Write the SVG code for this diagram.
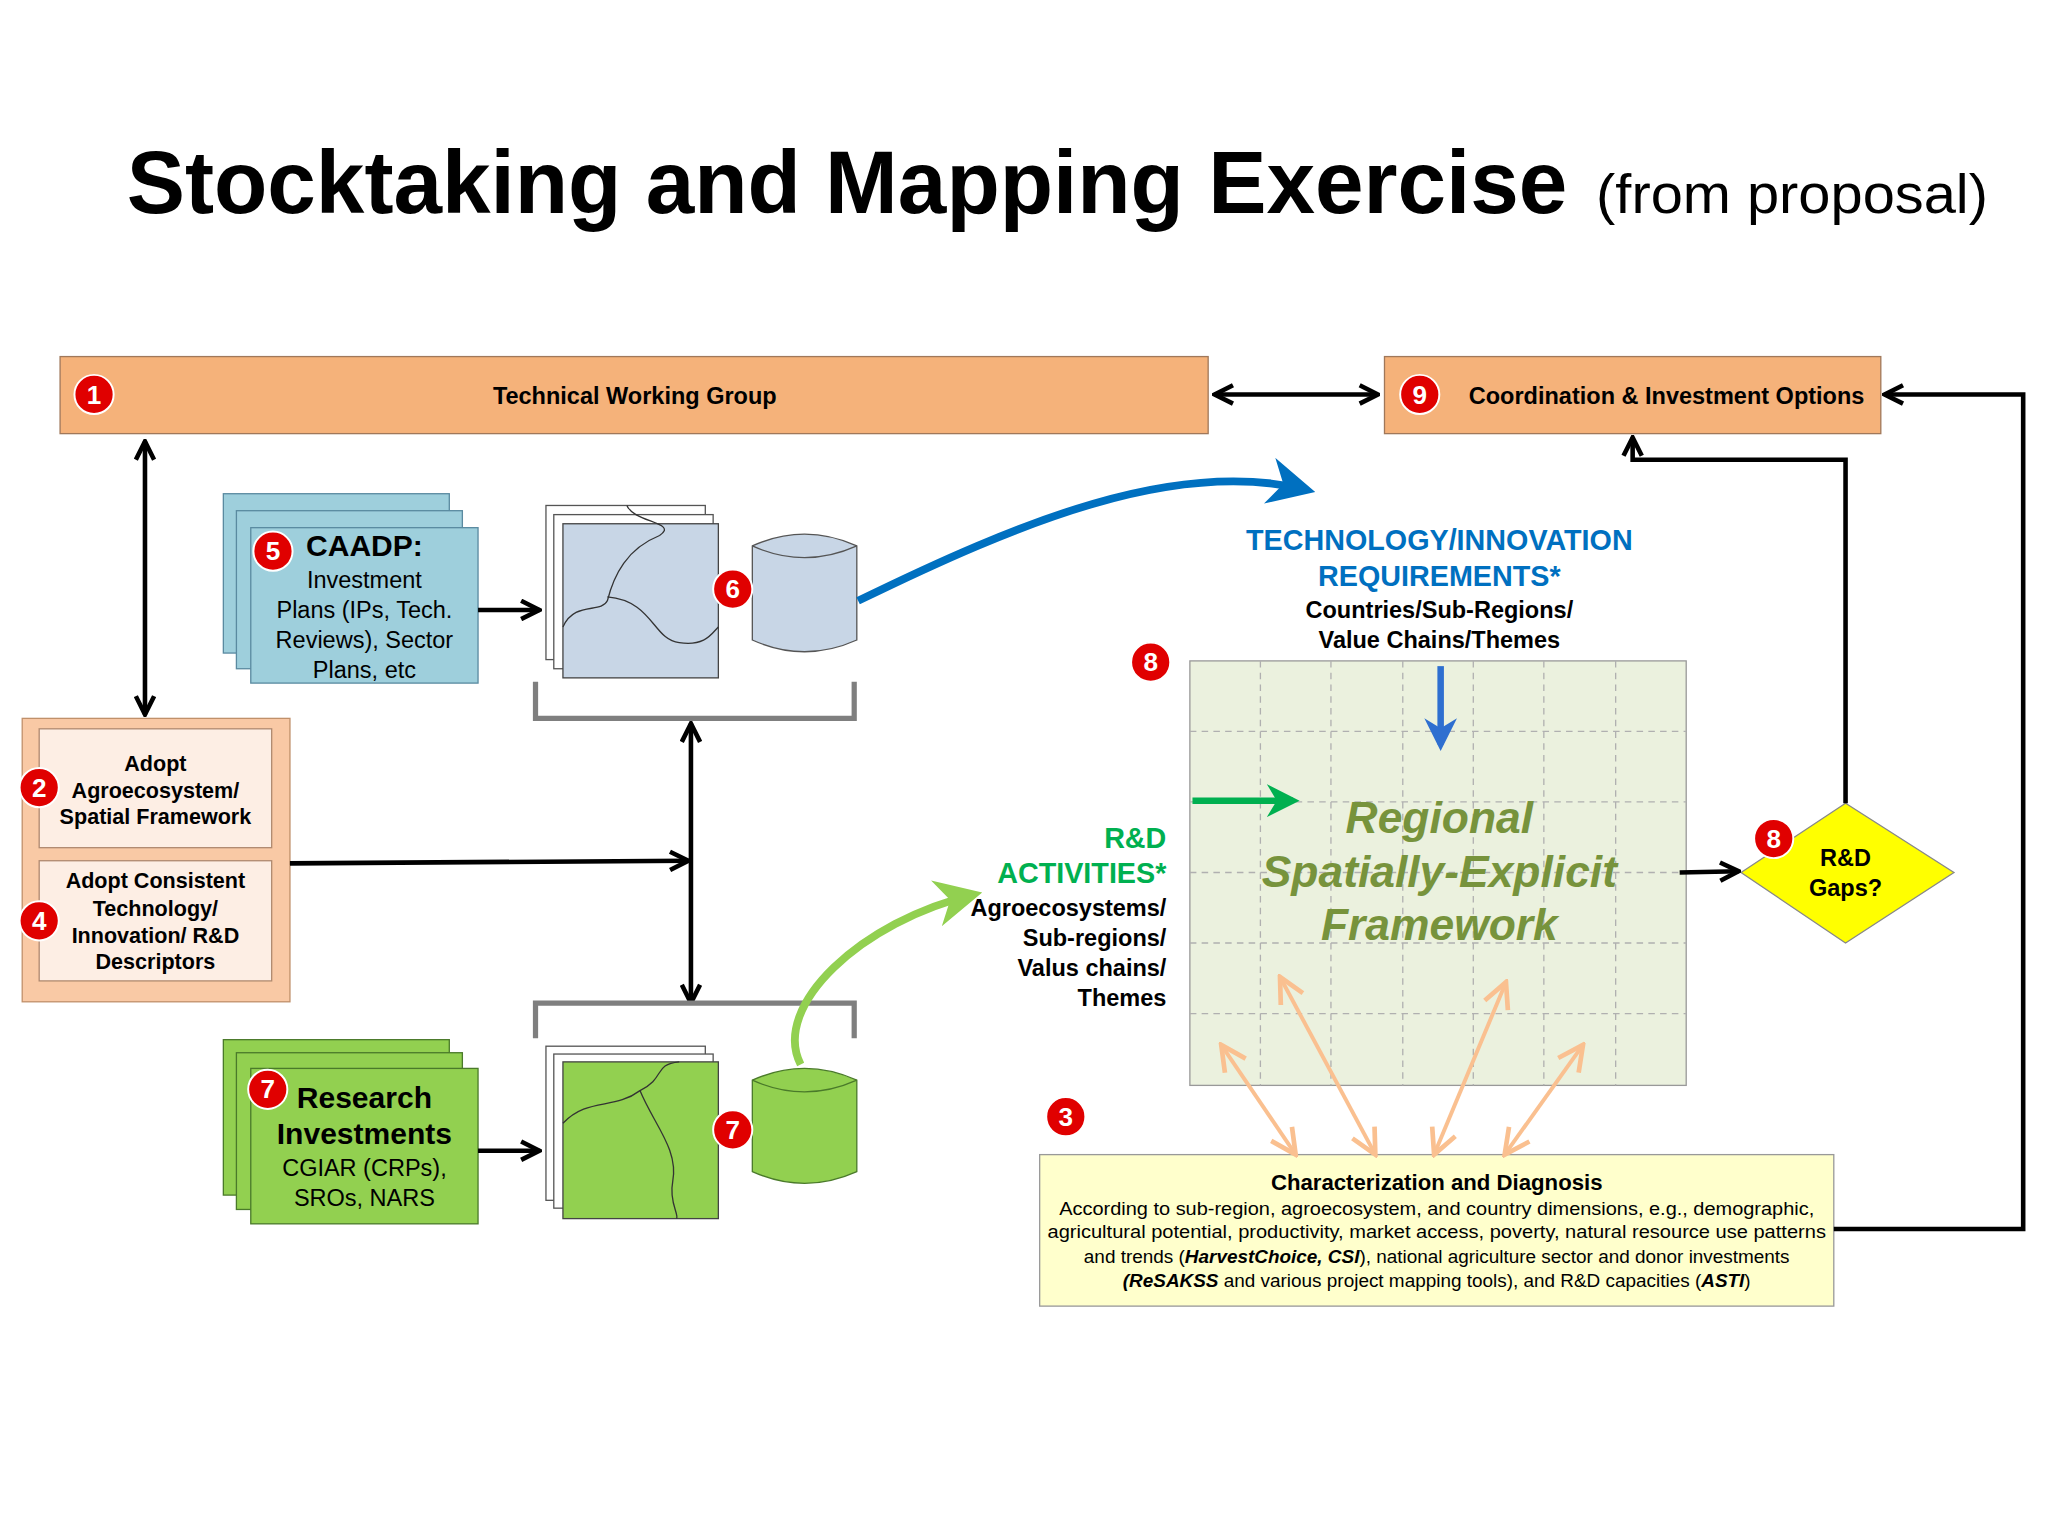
<svg xmlns="http://www.w3.org/2000/svg" width="2048" height="1536" viewBox="0 0 2048 1536">
<defs>
<style>
text{font-family:"Liberation Sans",Arial,sans-serif;}
.b{font-weight:bold;}
.bt{fill:#000;font-weight:bold;text-anchor:middle}
.badge circle{fill:#e00000;stroke:#fff;stroke-width:1.5}
.badge text{fill:#fff;font-size:20px;font-weight:bold;text-anchor:middle}
.conn{fill:none;stroke:#000;stroke-width:3.5}
.map{stroke:#444;stroke-width:1}
.cur{fill:none;stroke:#333;stroke-width:1}
.oa{fill:none;stroke:#fac090;stroke-width:3}
</style>
<marker id="ah" viewBox="0 0 10 10" refX="9" refY="5" markerWidth="5" markerHeight="5" orient="auto-start-reverse" markerUnits="strokeWidth"><polyline points="1,1 9,5 1,9" fill="none" stroke="#000" stroke-width="2"/></marker>
<marker id="ao" viewBox="0 0 10 10" refX="9" refY="5" markerWidth="8" markerHeight="8" orient="auto-start-reverse" markerUnits="strokeWidth"><polyline points="1,1 9,5 1,9" fill="none" stroke="#fac090" stroke-width="1.5"/></marker>
<marker id="ab" viewBox="0 0 10 10" refX="8" refY="5" markerWidth="6" markerHeight="6" orient="auto" markerUnits="strokeWidth"><path d="M0,0 L10,5 L0,10 L3,5 Z" fill="#0070c0"/></marker>
<marker id="ab2" viewBox="0 0 10 10" refX="8" refY="5" markerWidth="5" markerHeight="5" orient="auto" markerUnits="strokeWidth"><path d="M0,0 L10,5 L0,10 L3,5 Z" fill="#2e6fd0"/></marker>
<marker id="ag" viewBox="0 0 10 10" refX="8" refY="5" markerWidth="6" markerHeight="6" orient="auto" markerUnits="strokeWidth"><path d="M0,0 L10,5 L0,10 L3,5 Z" fill="#92d050"/></marker>
<marker id="ag2" viewBox="0 0 10 10" refX="8" refY="5" markerWidth="5" markerHeight="5" orient="auto" markerUnits="strokeWidth"><path d="M0,0 L10,5 L0,10 L3,5 Z" fill="#00b050"/></marker>
</defs>
<rect width="2048" height="1536" fill="#fff"/>
<g transform="scale(1.30612)">
<g id="title">
<text x="97" y="163" class="b" font-size="68" textLength="1103" lengthAdjust="spacingAndGlyphs">Stocktaking and Mapping Exercise</text>
<text x="1222" y="163" font-size="42" textLength="300" lengthAdjust="spacingAndGlyphs">(from proposal)</text>
</g>

<g id="n1"><rect x="46" y="273" width="879" height="59" fill="#f5b27a" stroke="#a0785a"/><text class="bt" style="font-size:18px" x="486" y="309">Technical Working Group</text></g>
<g id="n9"><rect x="1060" y="273" width="380" height="59" fill="#f5b27a" stroke="#a0785a"/><text class="bt" style="font-size:18px" x="1276" y="309">Coordination &amp; Investment Options</text></g>

<g id="n2n4" style="font-size:16.5px">
<rect x="17" y="550" width="205" height="217" fill="#f9c9a5" stroke="#c0906a"/>
<rect x="30" y="558" width="178" height="91" fill="#fdeee4" stroke="#b08a70"/>
<text class="bt" x="119" y="590">Adopt</text>
<text class="bt" x="119" y="611">Agroecosystem/</text>
<text class="bt" x="119" y="631">Spatial Framework</text>
<rect x="30" y="659" width="178" height="92" fill="#fdeee4" stroke="#b08a70"/>
<text class="bt" x="119" y="680">Adopt Consistent</text>
<text class="bt" x="119" y="701">Technology/</text>
<text class="bt" x="119" y="722">Innovation/ R&amp;D</text>
<text class="bt" x="119" y="742">Descriptors</text>
</g>

<g id="n5">
<rect x="171" y="378" width="173" height="122" fill="#9ecfdc" stroke="#5a8aa0"/>
<rect x="181" y="391" width="173" height="121" fill="#9ecfdc" stroke="#5a8aa0"/>
<rect x="192" y="404" width="174" height="119" fill="#9ecfdc" stroke="#5a8aa0"/>
<text class="bt" style="font-size:23px" x="279" y="426">CAADP:</text>
<g style="font-size:18px" text-anchor="middle"><text x="279" y="450">Investment</text><text x="279" y="473">Plans (IPs, Tech.</text><text x="279" y="496">Reviews), Sector</text><text x="279" y="519">Plans, etc</text></g>
</g>

<g id="n6">
<rect x="418" y="387" width="122" height="118" fill="#fff" stroke="#555"/>
<rect x="424" y="394" width="122" height="118" fill="#fff" stroke="#555"/>
<rect x="431" y="401" width="119" height="118" class="map" fill="#c8d6e6"/>
<path class="cur" d="M480,387 C485,400 520,400 505,410 C480,420 470,440 465,460 C460,470 440,460 431,480"/>
<path class="cur" d="M465,457 C500,460 500,490 520,492 C540,495 545,485 550,480"/>
<path d="M576,418 Q616,400 656,418 L656,490 Q616,508 576,490 Z" fill="#c8d6e6" stroke="#555"/>
<path d="M576,418 Q616,436 656,418" fill="none" stroke="#555"/>
</g>

<g id="n7a">
<rect x="171" y="796" width="173" height="119" fill="#92d050" stroke="#4a7a2a"/>
<rect x="181" y="806" width="173" height="120" fill="#92d050" stroke="#4a7a2a"/>
<rect x="192" y="818" width="174" height="119" fill="#92d050" stroke="#4a7a2a"/>
<text class="bt" style="font-size:23px" x="279" y="848">Research</text>
<text class="bt" style="font-size:23px" x="279" y="876">Investments</text>
<g style="font-size:18px" text-anchor="middle"><text x="279" y="900">CGIAR (CRPs),</text><text x="279" y="923">SROs, NARS</text></g>
</g>

<g id="n7b">
<rect x="418" y="801" width="122" height="118" fill="#fff" stroke="#555"/>
<rect x="424" y="807" width="122" height="118" fill="#fff" stroke="#555"/>
<rect x="431" y="813" width="119" height="120" class="map" fill="#92d050"/>
<path class="cur" d="M431,860 C450,840 470,850 490,835 C510,825 500,815 520,813"/>
<path class="cur" d="M490,835 C500,860 520,880 515,905 C512,920 520,930 518,933"/>
<path d="M576,827 Q616,809 656,827 L656,897 Q616,915 576,897 Z" fill="#92d050" stroke="#4a7a2a"/>
<path d="M576,827 Q616,845 656,827" fill="none" stroke="#4a7a2a"/>
</g>

<g id="n8">
<g class="b" style="font-size:22px" fill="#0070c0" text-anchor="middle"><text x="1102" y="421">TECHNOLOGY/INNOVATION</text><text x="1102" y="449">REQUIREMENTS*</text></g>
<text class="bt" style="font-size:18px" x="1102" y="473">Countries/Sub-Regions/</text>
<text class="bt" style="font-size:18px" x="1102" y="496">Value Chains/Themes</text>
<rect x="911" y="506" width="380" height="325" fill="#ebf1de" stroke="#999"/>
<g stroke="#b0b0b0" stroke-dasharray="5,4" stroke-width="1">
<line x1="965" y1="506" x2="965" y2="831"/><line x1="1019" y1="506" x2="1019" y2="831"/><line x1="1074" y1="506" x2="1074" y2="831"/><line x1="1128" y1="506" x2="1128" y2="831"/><line x1="1182" y1="506" x2="1182" y2="831"/><line x1="1237" y1="506" x2="1237" y2="831"/>
<line x1="911" y1="560" x2="1291" y2="560"/><line x1="911" y1="614" x2="1291" y2="614"/><line x1="911" y1="668" x2="1291" y2="668"/><line x1="911" y1="722" x2="1291" y2="722"/><line x1="911" y1="776" x2="1291" y2="776"/>
</g>
<g class="b" style="font-size:34px" font-style="italic" fill="#77933c" text-anchor="middle"><text x="1102" y="638">Regional</text><text x="1102" y="679">Spatially-Explicit</text><text x="1102" y="720">Framework</text></g>
<g class="b" style="font-size:22px" fill="#00b050" text-anchor="end"><text x="893" y="649">R&amp;D</text><text x="893" y="676">ACTIVITIES*</text></g>
<g class="b" style="font-size:18px" text-anchor="end"><text x="893" y="701">Agroecosystems/</text><text x="893" y="724">Sub-regions/</text><text x="893" y="747">Valus chains/</text><text x="893" y="770">Themes</text></g>
</g>

<g id="n8gaps">
<polygon points="1333,668 1413,615 1496,668 1413,722" fill="#ffff00" stroke="#888"/>
<text class="bt" style="font-size:18px" x="1413" y="663">R&amp;D</text><text class="bt" style="font-size:18px" x="1413" y="686">Gaps?</text>
</g>

<g id="n3">
<rect x="796" y="884" width="608" height="116" fill="#ffffcc" stroke="#999"/>
<text class="bt" style="font-size:17px" x="1100" y="911">Characterization and Diagnosis</text>
<g style="font-size:14.5px" text-anchor="middle">
<text x="1100" y="930" textLength="578" lengthAdjust="spacingAndGlyphs">According to sub-region, agroecosystem, and country dimensions, e.g., demographic,</text>
<text x="1100" y="948" textLength="596" lengthAdjust="spacingAndGlyphs">agricultural potential, productivity, market access, poverty, natural resource use patterns</text>
<text x="1100" y="967">and trends (<tspan font-weight="bold" font-style="italic">HarvestChoice, CSI</tspan>), national agriculture sector and donor investments</text>
<text x="1100" y="985"><tspan font-weight="bold" font-style="italic">(ReSAKSS</tspan> and various project mapping tools), and R&amp;D capacities (<tspan font-weight="bold" font-style="italic">ASTI</tspan>)</text>
</g>
</g>

<g id="connectors">
<line class="conn" x1="930" y1="302" x2="1055" y2="302" marker-start="url(#ah)" marker-end="url(#ah)"/>
<line class="conn" x1="111" y1="338" x2="111" y2="547" marker-start="url(#ah)" marker-end="url(#ah)"/>
<line class="conn" x1="366" y1="467" x2="413" y2="467" marker-end="url(#ah)"/>
<line class="conn" x1="366" y1="881" x2="413" y2="881" marker-end="url(#ah)"/>
<line class="conn" x1="529" y1="554" x2="529" y2="768" marker-start="url(#ah)" marker-end="url(#ah)"/>
<line class="conn" x1="222" y1="661" x2="527" y2="659" marker-end="url(#ah)"/>
<polyline fill="none" stroke="#7f7f7f" stroke-width="4" points="410,522 410,550 654,550 654,522"/>
<polyline fill="none" stroke="#7f7f7f" stroke-width="4" points="410,795 410,768 654,768 654,795"/>
<path d="M657,460 C780,400 900,350 1000,375" fill="none" stroke="#0070c0" stroke-width="6" marker-end="url(#ab)"/>
<path d="M613,815 C590,770 660,705 745,685" fill="none" stroke="#92d050" stroke-width="6" marker-end="url(#ag)"/>
<line x1="1103" y1="510" x2="1103" y2="570" stroke="#2e6fd0" stroke-width="5" marker-end="url(#ab2)"/>
<line x1="913" y1="613" x2="990" y2="613" stroke="#00b050" stroke-width="5" marker-end="url(#ag2)"/>
<line class="oa" x1="935" y1="800" x2="992" y2="884" marker-start="url(#ao)" marker-end="url(#ao)"/>
<line class="oa" x1="980" y1="748" x2="1053" y2="884" marker-start="url(#ao)" marker-end="url(#ao)"/>
<line class="oa" x1="1153" y1="752" x2="1098" y2="884" marker-start="url(#ao)" marker-end="url(#ao)"/>
<line class="oa" x1="1212" y1="800" x2="1152" y2="884" marker-start="url(#ao)" marker-end="url(#ao)"/>
<line class="conn" x1="1286" y1="668" x2="1331" y2="667" marker-end="url(#ah)"/>
<polyline class="conn" points="1413,615 1413,352 1250,352 1250,335" marker-end="url(#ah)"/>
<polyline class="conn" points="1404,941 1549,941 1549,302 1443,302" marker-end="url(#ah)"/>
</g>

<g id="badges" class="badge">
<g><circle cx="72" cy="302" r="15"/><text x="72" y="309">1</text></g>
<g><circle cx="30" cy="603" r="15"/><text x="30" y="610">2</text></g>
<g><circle cx="30" cy="705" r="15"/><text x="30" y="712">4</text></g>
<g><circle cx="209" cy="422" r="15"/><text x="209" y="429">5</text></g>
<g><circle cx="561" cy="451" r="15"/><text x="561" y="458">6</text></g>
<g><circle cx="205" cy="834" r="15"/><text x="205" y="841">7</text></g>
<g><circle cx="561" cy="865" r="15"/><text x="561" y="872">7</text></g>
<g><circle cx="881" cy="507" r="15"/><text x="881" y="514">8</text></g>
<g><circle cx="1358" cy="642" r="15"/><text x="1358" y="649">8</text></g>
<g><circle cx="816" cy="855" r="15"/><text x="816" y="862">3</text></g>
<g><circle cx="1087" cy="302" r="15"/><text x="1087" y="309">9</text></g>
</g>
</g>
</svg>
